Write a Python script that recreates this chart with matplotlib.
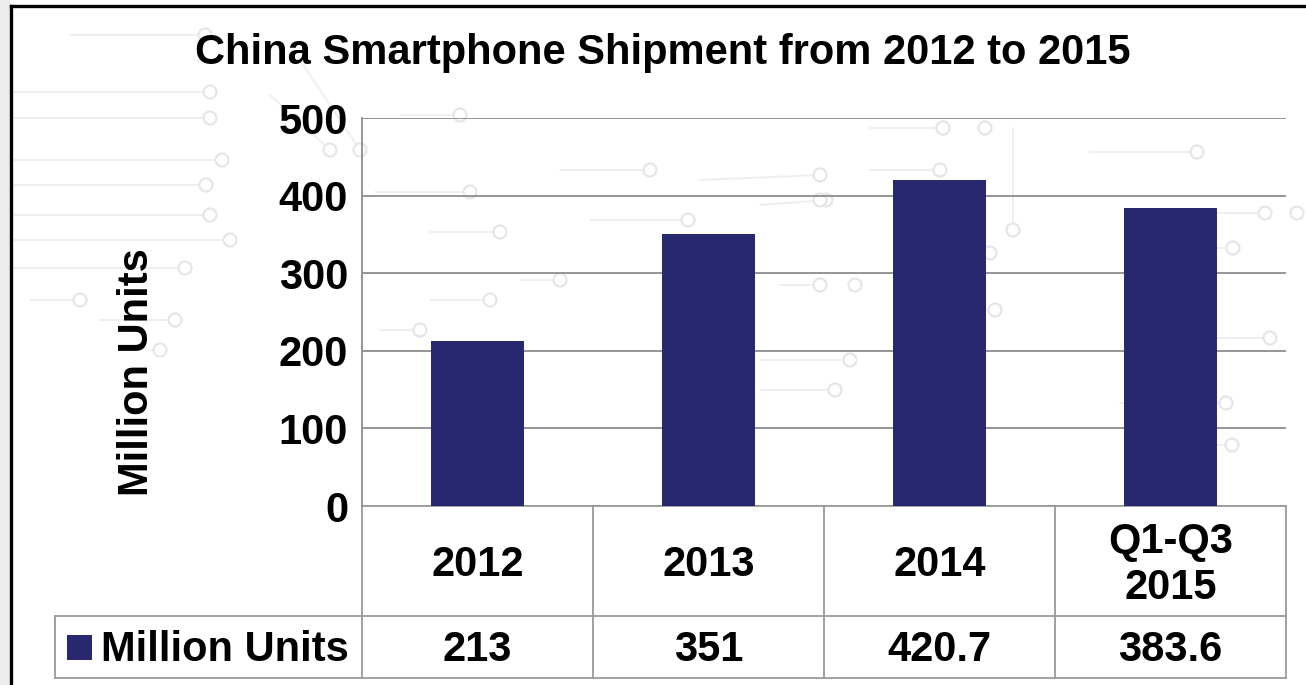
import matplotlib
matplotlib.use("Agg")
import matplotlib.pyplot as plt
from matplotlib.patches import Rectangle, Circle
from matplotlib.lines import Line2D

# ---- data ----
categories = ["2012", "2013", "2014", "Q1-Q3\n2015"]
values = [213, 351, 420.7, 383.6]
value_labels = ["213", "351", "420.7", "383.6"]
series_name = "Million Units"
title = "China Smartphone Shipment from 2012 to 2015"
y_ticks = [0, 100, 200, 300, 400, 500]

BAR = "#28286f"
GRID = "#8c8c8c"
TABLE = "#9a9a9a"
TRACE = "#efefef"
NODE = "#e6e6e6"

plt.rcParams['font.family'] = ['Liberation Sans', 'DejaVu Sans']
plt.rcParams['font.weight'] = 'bold'

W, H = 1306, 685
fig = plt.figure(figsize=(W / 100, H / 100), dpi=100)
fig.patch.set_facecolor("white")

# ---- decorative circuit-board backdrop (pixel space) ----
bg = fig.add_axes([0, 0, 1, 1], zorder=0)
bg.set_xlim(0, W)
bg.set_ylim(H, 0)
bg.axis("off")

traces = [
    [(70, 35), (205, 35)], [(0, 92), (210, 92)], [(0, 118), (210, 118)],
    [(0, 160), (222, 160)], [(0, 185), (206, 185)], [(0, 215), (210, 215)],
    [(0, 240), (230, 240)], [(0, 268), (185, 268)], [(30, 300), (80, 300)],
    [(100, 320), (175, 320)], [(150, 350), (160, 350)],
    [(270, 95), (330, 150)], [(300, 60), (360, 150)],
    [(375, 192), (470, 192)], [(400, 115), (460, 115)],
    [(560, 170), (650, 170)], [(590, 220), (688, 220)],
    [(430, 232), (500, 232)], [(430, 300), (490, 300)],
    [(520, 280), (560, 280)], [(380, 330), (420, 330)],
    [(700, 180), (820, 175)], [(760, 205), (826, 200)],
    [(870, 128), (943, 128)], [(1013, 128), (1013, 230)],
    [(870, 170), (940, 170)], [(1090, 152), (1197, 152)],
    [(1150, 213), (1265, 213)], [(1180, 248), (1233, 248)],
    [(1160, 338), (1270, 338)], [(1120, 403), (1226, 403)],
    [(1180, 445), (1232, 445)], [(760, 360), (850, 360)],
    [(760, 390), (835, 390)], [(780, 285), (820, 285)],
    [(930, 253), (990, 253)], [(940, 310), (995, 310)],
    [(690, 300), (720, 290)],
]
for tr in traces:
    xs, ys = zip(*tr)
    bg.plot(xs, ys, color=TRACE, lw=1.4, solid_capstyle="round", zorder=0)
    bg.add_patch(Circle(tr[-1], 6.5, facecolor="white", edgecolor=NODE,
                        lw=1.6, zorder=1))
for c in [(943, 128), (985, 128), (855, 285), (1297, 213), (820, 200)]:
    bg.add_patch(Circle(c, 6.5, facecolor="white", edgecolor=NODE,
                        lw=1.6, zorder=1))

# grey strip and black frame edges
bg.add_patch(Rectangle((0, 0), 10, H, facecolor="#ececec", edgecolor="none", zorder=2))
bg.add_line(Line2D([11, 11], [6, H], color="black", lw=2.4, zorder=3))
bg.add_line(Line2D([11, W], [6, 6], color="black", lw=2.4, zorder=3))

# ---- bar chart ----
ax = fig.add_axes([362 / W, 1 - 506 / H, 924 / W, 388 / H], zorder=2)
ax.patch.set_alpha(0)
x = list(range(len(categories)))
ax.bar(x, values, width=0.4, color=BAR, zorder=3)
ax.set_xlim(-0.5, len(categories) - 0.5)
ax.set_ylim(0, 500)
ax.set_yticks(y_ticks)
ax.set_xticks([])
ax.yaxis.grid(True, color=GRID, lw=1.3)
ax.set_axisbelow(True)
for s in ("top", "right"):
    ax.spines[s].set_visible(False)
ax.spines["left"].set_color(GRID)
ax.spines["left"].set_linewidth(1.3)
ax.spines["bottom"].set_color(TABLE)
ax.spines["bottom"].set_linewidth(1.3)
ax.tick_params(axis="y", length=0, pad=10, labelsize=30)
for lab in ax.get_yticklabels():
    lab.set_fontweight("bold")

fig.text(137 / W, 1 - 372 / H, series_name, rotation=90, ha="center",
         va="center", fontsize=30, fontweight="bold")
fig.text(663 / W, 1 - 53 / H, title, ha="center", va="center",
         fontsize=30, fontweight="bold")

# ---- data table under the axis ----
n = len(categories)
r1 = -110 / 388
r2 = -172 / 388
leg_left = (55 - 362) / 924
ta = ax.transAxes
line_kw = dict(color=TABLE, lw=1.3, transform=ta, clip_on=False)
for i in range(n + 1):
    ax.add_line(Line2D([i / n, i / n], [0, r2], **line_kw))
ax.add_line(Line2D([leg_left, 1], [r1, r1], **line_kw))
ax.add_line(Line2D([leg_left, 1], [r2, r2], **line_kw))
ax.add_line(Line2D([leg_left, leg_left], [r1, r2], **line_kw))

for i, (cat, lab) in enumerate(zip(categories, value_labels)):
    cx = (i + 0.5) / n
    ax.text(cx, r1 / 2 - 4 / 388, cat, transform=ta, ha="center", va="center",
            fontsize=30, fontweight="bold", linespacing=1.2, clip_on=False)
    ax.text(cx, (r1 + r2) / 2 - 3 / 388, lab, transform=ta, ha="center",
            va="center", fontsize=30, fontweight="bold", clip_on=False)

# legend key in the first cell of the value row
sq_w = 25 / 924
sq_h = 25 / 388
ax.add_patch(Rectangle(((67 - 362) / 924, (r1 + r2) / 2 - sq_h / 2), sq_w, sq_h,
                       facecolor=BAR, edgecolor="none", transform=ta,
                       clip_on=False))
ax.text((101 - 362) / 924, (r1 + r2) / 2 - 3 / 388, series_name, transform=ta,
        ha="left", va="center", fontsize=30, fontweight="bold", clip_on=False)

fig.savefig("out.png", dpi=100)
